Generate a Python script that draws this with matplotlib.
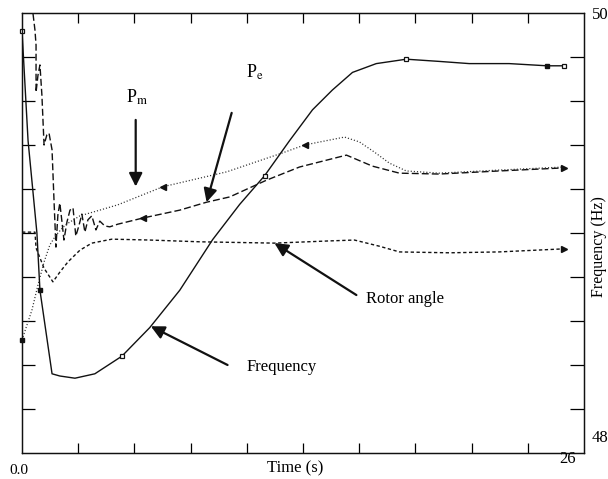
import numpy as np
import matplotlib
matplotlib.use("Agg")
import matplotlib.pyplot as plt

plt.rcParams["font.family"] = "serif"
plt.rcParams["font.serif"] = ["Liberation Serif", "DejaVu Serif"]
plt.rcParams["mathtext.fontset"] = "stix"

T_END = 26.0

# generator frequency (Hz, right-hand scale)
freq_t = np.array([0.00, 0.28, 0.69, 0.83, 1.39, 1.75, 2.45, 3.37, 4.62, 5.91,
                   7.30, 8.82, 10.07, 11.22, 12.38, 13.44, 14.36, 15.29, 16.39,
                   17.78, 19.30, 20.69, 22.54, 24.29, 25.08])
freq_hz = np.array([49.92, 49.42, 49.00, 48.74, 48.36, 48.35, 48.34, 48.36,
                    48.44, 48.57, 48.74, 48.97, 49.13, 49.26, 49.42, 49.56,
                    49.65, 49.73, 49.77, 49.79, 49.78, 49.77, 49.77, 49.76,
                    49.76])

# electrical power P_e (scaled, left-hand scale)
pe_t = np.array([0.51, 0.60, 0.65, 0.65, 0.74, 0.83, 0.92, 1.02, 1.15, 1.25,
                 1.39, 1.48, 1.57, 1.66, 1.75, 1.85, 1.94, 2.08, 2.22, 2.36,
                 2.49, 2.63, 2.77, 2.91, 3.05, 3.23, 3.42, 3.60, 3.83, 4.06,
                 4.43, 5.59, 7.30, 8.54, 9.61, 11.31, 12.84, 15.01, 16.21,
                 17.46, 19.30, 22.07, 25.08])
pe = np.array([9.98, 9.61, 9.27, 8.20, 8.59, 8.82, 8.14, 7.00, 7.23, 7.27,
               6.89, 5.75, 4.68, 5.41, 5.68, 5.25, 4.84, 5.25, 5.52, 5.57,
               4.93, 5.16, 5.43, 5.02, 5.30, 5.39, 5.07, 5.27, 5.16, 5.14,
               5.20, 5.34, 5.52, 5.70, 5.82, 6.20, 6.50, 6.77, 6.52,
               6.36, 6.34, 6.41, 6.48])

# mechanical power P_m (scaled)
pm_t = np.array([0.00, 0.23, 0.46, 0.74, 1.02, 1.29, 1.57, 1.99, 2.68, 3.60,
                 4.43, 6.51, 9.47, 12.05, 13.07, 14.92, 15.61, 16.30, 16.99,
                 17.78, 19.30, 22.07, 25.08])
pm = np.array([2.57, 2.91, 3.25, 3.82, 4.34, 4.73, 4.95, 5.18, 5.39, 5.52,
               5.64, 6.05, 6.39, 6.82, 7.00, 7.18, 7.07, 6.84, 6.59,
               6.41, 6.36, 6.43, 6.50])

# rotor angle (scaled)
rotor_t = np.array([0.00, 0.60, 0.65, 1.02, 1.43, 1.75, 2.12, 2.68, 3.23, 4.16,
                    5.91, 8.22, 11.68, 14.22, 15.38, 16.53, 17.46, 19.77,
                    22.07, 25.08])
rotor = np.array([5.02, 5.02, 4.66, 4.20, 3.89, 4.11, 4.34, 4.61, 4.77, 4.86,
                  4.84, 4.80, 4.77, 4.82, 4.84, 4.70, 4.57, 4.55, 4.57, 4.64])

fig = plt.figure(figsize=(6.08, 4.79), dpi=100)
W, H = 608.0, 479.0
ax = fig.add_axes([22 / W, 1 - 453 / H, 562 / W, 440 / H])
ax.set_xlim(0, T_END)
ax.set_ylim(0, 10)
ax2 = ax.twinx()
ax2.set_ylim(48, 50)

ink = "#111111"
ax.plot(pe_t, pe, color=ink, lw=1.0, dashes=(5, 2.2))
ax.plot(pm_t, pm, color="#333333", lw=0.9, dashes=(0.9, 1.6))
ax.plot(rotor_t, rotor, color=ink, lw=1.0, dashes=(2.4, 1.8))
ax2.plot(freq_t, freq_hz, color=ink, lw=1.0)

# point markers along the traces
ms = 3.5
sq_open = [0, 8, 13, 19, 24]
sq_full = [3, 23]
ax2.plot(freq_t[sq_open], freq_hz[sq_open], "s", ms=ms, mfc="white", mec=ink,
         mew=0.9, clip_on=False)
ax2.plot(freq_t[sq_full], freq_hz[sq_full], "s", ms=ms, color=ink, clip_on=False)
ax.plot(pm_t[[0]], pm[[0]], "s", ms=ms, color=ink, clip_on=False)
ax.plot(pm_t[[11, 14]], pm[[11, 14]], "<", ms=4, color=ink)
ax.plot(pe_t[[31]], pe[[31]], "<", ms=4, color=ink)
ax.plot(pe_t[[-1]], pe[[-1]], ">", ms=4, color=ink)
ax.plot(rotor_t[[-1]], rotor[[-1]], ">", ms=4, color=ink)

# frame and inward ticks
for ax_ in (ax, ax2):
    for s in ax_.spines.values():
        s.set_linewidth(0.9)
        s.set_color(ink)
ax.set_xticks(np.linspace(0, T_END, 11)[1:-1])
ax.set_yticks(np.arange(1, 10))
ax2.set_yticks(np.linspace(48, 50, 11)[1:-1])
ax.tick_params(axis="x", direction="in", top=True, bottom=True, length=7,
               width=0.9, labelbottom=False)
ax.tick_params(axis="y", direction="in", left=True, right=False, length=9,
               width=0.9, labelleft=False)
ax2.tick_params(axis="y", direction="in", length=10, width=0.9,
                labelright=False)

arrow = dict(arrowstyle="-|>", color=ink, lw=1.6, mutation_scale=20,
             shrinkA=0, shrinkB=0)

# P_m
t_tip = 5.26
ax.annotate("", xy=(t_tip, np.interp(t_tip, pm_t, pm)), xytext=(t_tip, 7.57),
            arrowprops=dict(arrow, shrinkB=8))
ax.text(5.31, 8.09, r"P$_{\mathrm{m}}$", fontsize=13, ha="center",
        va="center")

# P_e
t_tip = 8.54
ax.annotate("", xy=(t_tip, np.interp(t_tip, pe_t, pe)), xytext=(9.70, 7.73),
            arrowprops=arrow)
ax.text(10.76, 8.66, r"P$_{\mathrm{e}}$", fontsize=13, ha="center",
        va="center")

# rotor angle
t_tip = 11.68
ax.annotate("", xy=(t_tip, np.interp(t_tip, rotor_t, rotor)),
            xytext=(15.47, 3.59), arrowprops=arrow)
ax.text(15.93, 3.50, "Rotor angle", fontsize=12, ha="left", va="center")

# frequency
t_tip = 5.96
ax2.annotate("", xy=(t_tip, np.interp(t_tip, freq_t, freq_hz)),
             xytext=(9.51, 48.40), arrowprops=arrow)
ax2.text(10.39, 48.39, "Frequency", fontsize=12, ha="left", va="center")

# axis annotations
fig.text(19 / W, 1 - 471 / H, "0.0", fontsize=11, ha="center", va="center")
fig.text(568 / W, 1 - 459 / H, "26", fontsize=12, ha="center", va="center")
fig.text(295 / W, 1 - 468 / H, "Time (s)", fontsize=12, ha="center",
         va="center")
fig.text(592 / W, 1 - 15 / H, "50", fontsize=12, ha="left", va="center")
fig.text(592 / W, 1 - 438 / H, "48", fontsize=12, ha="left", va="center")
fig.text(599 / W, 1 - 247 / H, "Frequency (Hz)", fontsize=11.5, rotation=90,
         ha="center", va="center")

fig.savefig("out.png", dpi=100)
